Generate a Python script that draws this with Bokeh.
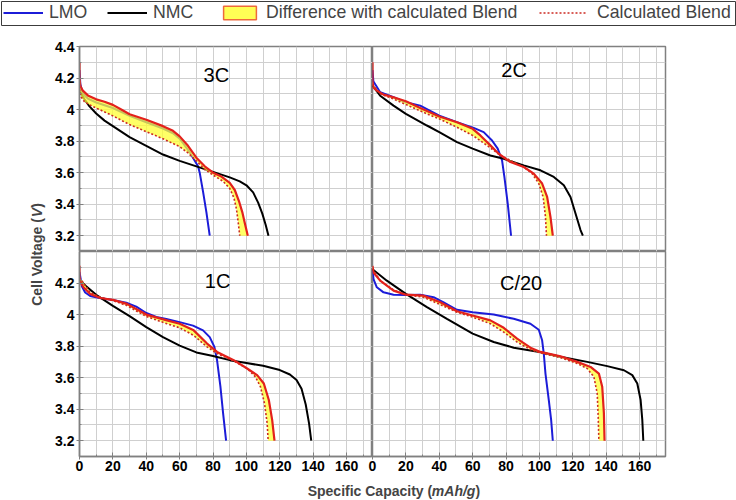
import numpy as np
from bokeh.plotting import figure
from bokeh.layouts import row, column
from bokeh.models import (Range1d, FixedTicker, LinearAxis, Grid, Label, Legend,
                          LegendItem, CustomJSTickFormatter)
from bokeh.embed import file_html
from bokeh.resources import INLINE

FONT = "Liberation Sans"
BLUE = "#1c1cd8"
BLACK = "#000000"
RED = "#e3211c"
DOT = "#cc2a22"
YELLOW = "#ffff33"
GRIDC = "#cfcfcf"
FRAME = "#808080"

# ---------------- data ----------------
X_TICKS = [0, 20, 40, 60, 80, 100, 120, 140, 160]
X_MINOR = [0, 10, 20, 30, 40, 50, 60, 70, 80, 90, 100, 110, 120, 130, 140, 150, 160, 170]
Y_TICKS_TOP = [3.2, 3.4, 3.6, 3.8, 4.0, 4.2, 4.4]
Y_TICKS_BOTTOM = [3.2, 3.4, 3.6, 3.8, 4.0, 4.2]
Y_MINOR = [3.1, 3.2, 3.3, 3.4, 3.5, 3.6, 3.7, 3.8, 3.9, 4.0, 4.1, 4.2, 4.3, 4.4]

# 3C
LMO_3C_X = [0, 0.5, 2, 5, 10, 20, 30, 40, 50, 56, 60, 66, 71, 72, 74, 76, 78]
LMO_3C_Y = [4.25, 4.16, 4.10, 4.07, 4.045, 4.01, 3.96, 3.92, 3.88, 3.85, 3.815, 3.73, 3.64, 3.60, 3.48, 3.35, 3.20]
NMC_3C_X = [0, 1, 3, 6, 10, 15, 20, 30, 40, 50, 60, 70, 80, 90, 96, 100, 104, 107, 109.5, 111.5, 113.2]
NMC_3C_Y = [4.12, 4.10, 4.065, 4.02, 3.975, 3.93, 3.895, 3.825, 3.77, 3.715, 3.675, 3.64, 3.605, 3.57, 3.545, 3.52, 3.475, 3.41, 3.34, 3.27, 3.20]
BLEND_3C_X = [0, 0, 0.5, 2, 5, 10, 15, 20, 25, 30, 40, 50, 56, 60, 65, 70, 75, 80, 85, 90, 93, 95.5, 97.5, 99, 100.8]
BLEND_3C_Y = [4.30, 4.20, 4.15, 4.12, 4.09, 4.065, 4.05, 4.03, 4.0, 3.97, 3.935, 3.895, 3.865, 3.83, 3.77, 3.695, 3.64, 3.60, 3.575, 3.535, 3.49, 3.42, 3.35, 3.28, 3.20]
CALC_3C_X = [0, 1, 3, 6, 10, 20, 30, 40, 50, 60, 65, 70, 75, 80, 86, 90, 92.5, 94, 95, 96]
CALC_3C_Y = [4.13, 4.08, 4.05, 4.03, 4.01, 3.96, 3.905, 3.86, 3.815, 3.765, 3.725, 3.675, 3.62, 3.585, 3.545, 3.50, 3.44, 3.37, 3.29, 3.20]

# 2C
LMO_2C_X = [0, 0.5, 4.6, 12.6, 20, 28.6, 40, 50.6, 60.6, 66.6, 71.6, 75, 77.6, 79, 81, 83]
LMO_2C_Y = [4.25, 4.18, 4.11, 4.078, 4.046, 4.025, 3.962, 3.92, 3.884, 3.857, 3.804, 3.752, 3.678, 3.573, 3.404, 3.20]
NMC_2C_X = [0, 4.6, 12.6, 20, 32.6, 40, 50.6, 60, 70.6, 78.6, 90.6, 100.6, 108.6, 114.6, 118.6, 121.6, 124.6, 126]
NMC_2C_Y = [4.152, 4.088, 4.025, 3.973, 3.899, 3.857, 3.794, 3.752, 3.709, 3.688, 3.646, 3.615, 3.573, 3.52, 3.446, 3.341, 3.236, 3.20]
BLEND_2C_X = [0, 0, 0.5, 2.6, 6.6, 12.6, 20, 28.6, 40, 50.6, 60, 64.6, 70.6, 75.6, 82.6, 90.6, 96.6, 101.6, 104.6, 106.6, 108]
BLEND_2C_Y = [4.30, 4.18, 4.14, 4.12, 4.095, 4.078, 4.053, 4.01, 3.956, 3.92, 3.878, 3.836, 3.773, 3.72, 3.667, 3.636, 3.594, 3.531, 3.446, 3.32, 3.20]
CALC_2C_X = [0, 4.6, 12.6, 20, 32.6, 40, 50.6, 60, 68.6, 76.6, 84.6, 90.6, 95.6, 99.6, 102.2, 103.6, 104.2]
CALC_2C_Y = [4.16, 4.10, 4.067, 4.032, 3.973, 3.941, 3.888, 3.836, 3.773, 3.709, 3.667, 3.636, 3.594, 3.531, 3.446, 3.32, 3.20]

# 1C
LMO_1C_X = [0, 1.4, 3.4, 6.4, 12, 20, 28, 34, 40, 46, 52, 60, 68, 74, 78, 80.8, 82.4, 84.4, 86, 87.8]
LMO_1C_Y = [4.27, 4.18, 4.14, 4.118, 4.105, 4.092, 4.075, 4.05, 4.01, 3.985, 3.972, 3.952, 3.93, 3.90, 3.857, 3.795, 3.71, 3.545, 3.375, 3.20]
NMC_1C_X = [0, 4, 10, 20, 30, 40, 50, 60, 70, 80, 90, 100, 110, 120, 126, 130, 133, 135.5, 137.5, 138.8]
NMC_1C_Y = [4.22, 4.18, 4.125, 4.055, 3.99, 3.92, 3.857, 3.803, 3.76, 3.737, 3.711, 3.693, 3.675, 3.648, 3.62, 3.585, 3.53, 3.43, 3.31, 3.20]
BLEND_1C_X = [0, 0, 2.4, 6.4, 12.4, 20, 28.4, 40, 52.4, 60, 68.4, 76.4, 82.4, 92.4, 100.4, 106.4, 110.4, 113.4, 115.4, 116.8]
BLEND_1C_Y = [4.31, 4.215, 4.173, 4.131, 4.105, 4.093, 4.068, 4.0, 3.963, 3.942, 3.90, 3.816, 3.763, 3.711, 3.658, 3.616, 3.563, 3.458, 3.332, 3.20]
CALC_1C_X = [0, 6.4, 12.4, 20, 28.4, 40, 52.4, 60, 68.4, 76.4, 82.4, 92.4, 100.4, 105.4, 108.4, 110.8, 112.4, 113]
CALC_1C_Y = [4.236, 4.141, 4.11, 4.089, 4.057, 3.988, 3.942, 3.916, 3.868, 3.795, 3.753, 3.706, 3.658, 3.605, 3.542, 3.437, 3.311, 3.20]

# C/20
LMO_C20_X = [0, 0.6, 2.6, 6.6, 12.6, 20, 28.6, 36.6, 42.6, 50.6, 60, 72.6, 84.6, 94.6, 99.6, 101.6, 102.6, 103.6, 105.6, 107, 108]
LMO_C20_Y = [4.288, 4.225, 4.173, 4.141, 4.126, 4.124, 4.126, 4.11, 4.078, 4.03, 4.015, 4.0, 3.973, 3.942, 3.904, 3.837, 3.753, 3.626, 3.458, 3.332, 3.20]
NMC_C20_X = [0, 8.6, 20, 32.6, 44.6, 60, 72.6, 84.6, 100, 112.6, 128.6, 140.6, 150.6, 155.6, 158.6, 160.6, 161.6, 162.2]
NMC_C20_Y = [4.288, 4.215, 4.131, 4.047, 3.973, 3.879, 3.826, 3.79, 3.763, 3.732, 3.70, 3.673, 3.647, 3.616, 3.563, 3.458, 3.332, 3.20]
BLEND_C20_X = [0, 0.6, 4.6, 12.6, 20, 30.6, 40.6, 50.6, 60, 70.6, 78.6, 86.6, 94.6, 100.6, 112.6, 122.6, 130.6, 135.6, 137.6, 138.6, 139]
BLEND_C20_Y = [4.309, 4.267, 4.215, 4.152, 4.126, 4.12, 4.078, 4.021, 3.994, 3.963, 3.916, 3.847, 3.79, 3.763, 3.736, 3.70, 3.668, 3.626, 3.542, 3.374, 3.20]
CALC_C20_X = [0, 4.6, 12.6, 20, 30.6, 40.6, 50.6, 60, 70.6, 78.6, 86.6, 94.6, 100.6, 112.6, 122.6, 128.6, 132.6, 134.6, 135.2, 135.6]
CALC_C20_Y = [4.288, 4.215, 4.156, 4.126, 4.11, 4.063, 4.015, 3.984, 3.942, 3.889, 3.826, 3.778, 3.757, 3.727, 3.69, 3.658, 3.605, 3.50, 3.353, 3.20]

PANEL_LABELS = ["3C", "2C", "1C", "C/20"]
LEGEND_LABELS = ["LMO", "NMC", "Difference with calculated Blend", "Calculated Blend"]
X_TITLE = ["Specific Capacity (", "mAh/g", ")"]
Y_TITLE = ["Cell Voltage (", "V", ")"]

X_RANGE = (0, 175.5)
Y_RANGE = (3.1, 4.4)


def style_axis(ax):
    ax.axis_line_color = FRAME
    ax.axis_line_width = 1.5
    ax.major_tick_line_color = FRAME
    ax.minor_tick_line_color = FRAME
    ax.major_tick_in = 4
    ax.major_tick_out = 3
    ax.minor_tick_in = 2
    ax.minor_tick_out = 0
    ax.major_label_text_font = FONT
    ax.major_label_text_font_size = "14px"
    ax.major_label_text_font_style = "bold"
    ax.major_label_text_color = "black"


def panel(label, lx, ly, nx, ny, bx, by, cx, cy, width, height, left, right, top, bottom,
          yticks=None, xaxis=False, label_pos=(82, 4.22)):
    p = figure(width=width, height=height, x_range=Range1d(*X_RANGE), y_range=Range1d(*Y_RANGE),
               x_axis_location=None, y_axis_location=None, toolbar_location=None,
               output_backend="svg", min_border_left=left, min_border_right=right,
               min_border_top=top, min_border_bottom=bottom)
    p.title = None
    p.outline_line_color = FRAME
    p.outline_line_width = 1.5
    p.border_fill_color = None
    p.background_fill_color = "white"
    p.center = [c for c in p.center if not isinstance(c, Grid)]
    p.add_layout(Grid(dimension=0, ticker=FixedTicker(ticks=X_MINOR), grid_line_color=GRIDC))
    p.add_layout(Grid(dimension=1, ticker=FixedTicker(ticks=Y_MINOR), grid_line_color=GRIDC))
    if yticks is not None:
        ax = LinearAxis(ticker=FixedTicker(ticks=yticks, minor_ticks=Y_MINOR),
                        formatter=CustomJSTickFormatter(code="return String(Math.round(tick*10)/10);"))
        style_axis(ax)
        ax.major_label_standoff = 2
        p.add_layout(ax, "left")
    if xaxis:
        ax = LinearAxis(ticker=FixedTicker(ticks=X_TICKS, minor_ticks=X_MINOR))
        style_axis(ax)
        ax.major_label_standoff = 1
        p.add_layout(ax, "below")
    p.line(lx, ly, line_color=BLUE, line_width=2)
    p.line(nx, ny, line_color=BLACK, line_width=2)
    p.patch(bx + cx[::-1], by + cy[::-1], fill_color=YELLOW, fill_alpha=0.75, line_color=None)
    p.line(cx, cy, line_color=DOT, line_width=1.6, line_dash="2 2")
    p.line(bx, by, line_color=RED, line_width=2.2)
    p.add_layout(Label(x=label_pos[0], y=label_pos[1], text=label, text_align="center",
                       text_baseline="alphabetic", text_font=FONT, text_font_size="20px",
                       text_color="black"))
    return p


FW = 293
tl = panel(PANEL_LABELS[0], LMO_3C_X, LMO_3C_Y, NMC_3C_X, NMC_3C_Y, BLEND_3C_X, BLEND_3C_Y,
           CALC_3C_X, CALC_3C_Y, 29 + FW, 215, 29, 0, 10, 0, yticks=Y_TICKS_TOP,
           label_pos=(82, 4.22))
tr = panel(PANEL_LABELS[1], LMO_2C_X, LMO_2C_Y, NMC_2C_X, NMC_2C_Y, BLEND_2C_X, BLEND_2C_Y,
           CALC_2C_X, CALC_2C_Y, FW + 8, 215, 0, 8, 10, 0, label_pos=(84.8, 4.248))
bl = panel(PANEL_LABELS[2], LMO_1C_X, LMO_1C_Y, NMC_1C_X, NMC_1C_Y, BLEND_1C_X, BLEND_1C_Y,
           CALC_1C_X, CALC_1C_Y, 29 + FW, 229, 29, 0, 0, 24, yticks=Y_TICKS_BOTTOM, xaxis=True,
           label_pos=(82.7, 4.216))
br = panel(PANEL_LABELS[3], LMO_C20_X, LMO_C20_Y, NMC_C20_X, NMC_C20_Y, BLEND_C20_X, BLEND_C20_Y,
           CALC_C20_X, CALC_C20_Y, 6 + FW + 8, 229, 6, 8, 0, 24, xaxis=True,
           label_pos=(89, 4.203))
br.margin = (0, 0, 0, -6)


def blank(width, height, left=0, right=0, top=0, bottom=0):
    fw = width - left - right
    fh = height - top - bottom
    p = figure(width=width, height=height, x_range=Range1d(0, fw), y_range=Range1d(0, fh),
               x_axis_location=None, y_axis_location=None, toolbar_location=None,
               output_backend="svg", min_border_left=left, min_border_right=right,
               min_border_top=top, min_border_bottom=bottom)
    p.title = None
    p.outline_line_color = None
    p.center = [c for c in p.center if not isinstance(c, Grid)]
    return p


# legend strip: its frame is the legend box
lg = blank(736, 36, left=1, right=1, top=1, bottom=11)
lg.outline_line_color = "#3c3c3c"
lg.outline_line_width = 1
NAN = [float("nan")]
r1 = lg.line(x=NAN, y=NAN, line_color=BLUE, line_width=2)
r2 = lg.line(x=NAN, y=NAN, line_color=BLACK, line_width=2)
r3 = lg.patch(x=NAN, y=NAN, fill_color="#ffff55", line_color="#ee6a3c", line_width=1.5)
r4 = lg.line(x=NAN, y=NAN, line_color=DOT, line_width=1.6, line_dash="2 2")

LEG_SPECS = [(r1, 2, 40, 6), (r2, 106, 40, 6), (r3, 218, 41, 6), (r4, 538, 47, 11)]
for (rend, lx, gw, so), text in zip(LEG_SPECS, LEGEND_LABELS):
    lg.add_layout(Legend(items=[LegendItem(label=text, renderers=[rend])],
                         orientation="horizontal", location=(lx, 2), margin=0, padding=0,
                         spacing=0, glyph_width=gw, glyph_height=17, label_standoff=so,
                         label_height=18, label_text_font=FONT, label_text_font_size="17.7px",
                         border_line_color=None, background_fill_alpha=0))

# y title
yl = blank(50, 444)
y0 = 174.65
yl.add_layout(Label(x=36.5, y=y0, text=Y_TITLE[0], angle=np.pi / 2, text_align="left",
                    text_baseline="middle", text_font=FONT, text_font_size="14px",
                    text_font_style="bold"))
yl.add_layout(Label(x=36.5, y=y0 + 88.7, text=Y_TITLE[1], angle=np.pi / 2, text_align="left",
                    text_baseline="middle", text_font=FONT, text_font_size="14px",
                    text_font_style="bold italic"))
yl.add_layout(Label(x=36.5, y=y0 + 98.0, text=Y_TITLE[2], angle=np.pi / 2, text_align="left",
                    text_baseline="middle", text_font=FONT, text_font_size="14px",
                    text_font_style="bold"))

# x title
xl = blank(736, 20)
x0 = 307
xb = 10
xl.add_layout(Label(x=x0, y=xb, text=X_TITLE[0], text_align="left", text_baseline="middle",
                    text_font=FONT, text_font_size="14px", text_font_style="bold"))
xl.add_layout(Label(x=x0 + 124.5, y=xb, text=X_TITLE[1], text_align="left",
                    text_baseline="middle", text_font=FONT, text_font_size="14px",
                    text_font_style="bold italic"))
xl.add_layout(Label(x=x0 + 168.3, y=xb, text=X_TITLE[2], text_align="left",
                    text_baseline="middle", text_font=FONT, text_font_size="14px",
                    text_font_style="bold"))

layout = column(lg, row(yl, column(row(tl, tr), row(bl, br))), xl)
open("out.html", "w").write(file_html(layout, INLINE))
